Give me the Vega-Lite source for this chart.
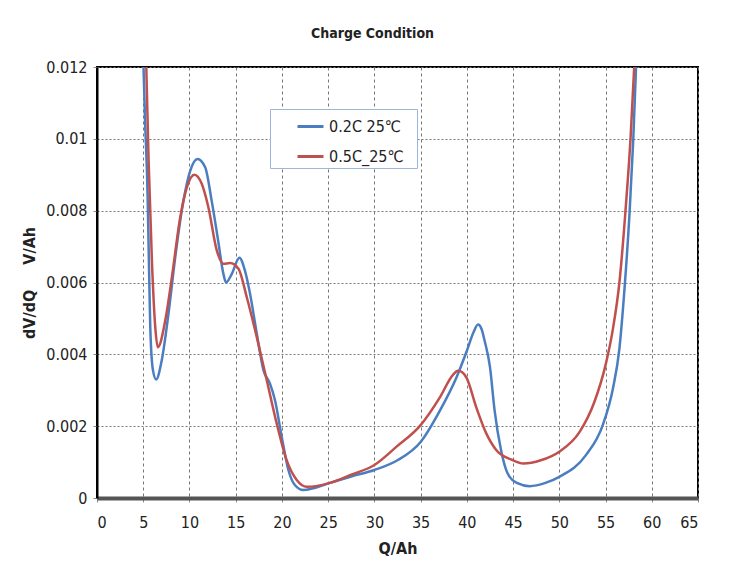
{
  "$schema": "https://vega.github.io/schema/vega-lite/v6.json",
  "width": 601,
  "height": 431,
  "autosize": {"type": "none"},
  "padding": {"left": 97, "top": 67, "right": 32, "bottom": 87},
  "background": "white",
  "title": {
    "text": "Charge Condition",
    "font": "Liberation Sans Narrow, DejaVu Sans Condensed, DejaVu Sans",
    "fontSize": 14,
    "fontWeight": "bold",
    "color": "#222222",
    "anchor": "middle",
    "frame": "group",
    "dx": -25,
    "baseline": "bottom",
    "offset": 4
  },
  "config": {
    "view": {"stroke": "#000000", "strokeWidth": 2},
    "font": "Liberation Sans Narrow, DejaVu Sans Condensed, DejaVu Sans",
    "axis": {
      "labelFont": "Liberation Sans Narrow, DejaVu Sans Condensed, DejaVu Sans",
      "labelFontSize": 16,
      "labelColor": "#222222",
      "titleFont": "Liberation Sans Narrow, DejaVu Sans Condensed, DejaVu Sans",
      "titleFontSize": 16,
      "titleFontWeight": "bold",
      "titleColor": "#222222",
      "tickColor": "#888888",
      "tickSize": 4,
      "gridColor": "#777777",
      "gridWidth": 1
    }
  },
  "data": {
    "values": [
      {"series": "0.2C 25℃", "q": 5.03, "dvdq": 0.012},
      {"series": "0.2C 25℃", "q": 5.2, "dvdq": 0.0105},
      {"series": "0.2C 25℃", "q": 5.47, "dvdq": 0.00846},
      {"series": "0.2C 25℃", "q": 5.62, "dvdq": 0.0065},
      {"series": "0.2C 25℃", "q": 5.76, "dvdq": 0.00476},
      {"series": "0.2C 25℃", "q": 6.05, "dvdq": 0.00356},
      {"series": "0.2C 25℃", "q": 6.4, "dvdq": 0.0033},
      {"series": "0.2C 25℃", "q": 7.0, "dvdq": 0.00383},
      {"series": "0.2C 25℃", "q": 7.73, "dvdq": 0.00513},
      {"series": "0.2C 25℃", "q": 8.46, "dvdq": 0.0067},
      {"series": "0.2C 25℃", "q": 9.35, "dvdq": 0.00828},
      {"series": "0.2C 25℃", "q": 10.08, "dvdq": 0.00911},
      {"series": "0.2C 25℃", "q": 10.87, "dvdq": 0.00944},
      {"series": "0.2C 25℃", "q": 11.7, "dvdq": 0.00921},
      {"series": "0.2C 25℃", "q": 12.4, "dvdq": 0.00828},
      {"series": "0.2C 25℃", "q": 13.1, "dvdq": 0.00717},
      {"series": "0.2C 25℃", "q": 13.67, "dvdq": 0.00624},
      {"series": "0.2C 25℃", "q": 13.96, "dvdq": 0.006},
      {"series": "0.2C 25℃", "q": 14.58, "dvdq": 0.00624},
      {"series": "0.2C 25℃", "q": 15.4, "dvdq": 0.00669},
      {"series": "0.2C 25℃", "q": 16.0, "dvdq": 0.00633},
      {"series": "0.2C 25℃", "q": 16.55, "dvdq": 0.00569},
      {"series": "0.2C 25℃", "q": 17.28, "dvdq": 0.00458},
      {"series": "0.2C 25℃", "q": 18.0, "dvdq": 0.00356},
      {"series": "0.2C 25℃", "q": 18.7, "dvdq": 0.00319},
      {"series": "0.2C 25℃", "q": 19.25, "dvdq": 0.00272},
      {"series": "0.2C 25℃", "q": 19.98, "dvdq": 0.0017},
      {"series": "0.2C 25℃", "q": 20.7, "dvdq": 0.00078},
      {"series": "0.2C 25℃", "q": 21.4, "dvdq": 0.00036},
      {"series": "0.2C 25℃", "q": 22.3, "dvdq": 0.00022},
      {"series": "0.2C 25℃", "q": 23.5, "dvdq": 0.00028},
      {"series": "0.2C 25℃", "q": 25.2, "dvdq": 0.00042},
      {"series": "0.2C 25℃", "q": 27.5, "dvdq": 0.0006},
      {"series": "0.2C 25℃", "q": 30, "dvdq": 0.00078},
      {"series": "0.2C 25℃", "q": 32.5, "dvdq": 0.00105},
      {"series": "0.2C 25℃", "q": 35, "dvdq": 0.00156},
      {"series": "0.2C 25℃", "q": 37.1, "dvdq": 0.00244},
      {"series": "0.2C 25℃", "q": 38.9, "dvdq": 0.00337},
      {"series": "0.2C 25℃", "q": 40, "dvdq": 0.0041},
      {"series": "0.2C 25℃", "q": 40.7, "dvdq": 0.0046},
      {"series": "0.2C 25℃", "q": 41.2, "dvdq": 0.00483},
      {"series": "0.2C 25℃", "q": 41.6, "dvdq": 0.0047},
      {"series": "0.2C 25℃", "q": 41.9, "dvdq": 0.0044},
      {"series": "0.2C 25℃", "q": 42.5, "dvdq": 0.00365},
      {"series": "0.2C 25℃", "q": 43.0, "dvdq": 0.00244},
      {"series": "0.2C 25℃", "q": 43.7, "dvdq": 0.00133},
      {"series": "0.2C 25℃", "q": 44.4, "dvdq": 0.00069},
      {"series": "0.2C 25℃", "q": 45.4, "dvdq": 0.00042},
      {"series": "0.2C 25℃", "q": 46.8, "dvdq": 0.00033},
      {"series": "0.2C 25℃", "q": 48.5, "dvdq": 0.00042},
      {"series": "0.2C 25℃", "q": 50, "dvdq": 0.00059},
      {"series": "0.2C 25℃", "q": 52.9, "dvdq": 0.0012},
      {"series": "0.2C 25℃", "q": 54.7, "dvdq": 0.00203},
      {"series": "0.2C 25℃", "q": 55.8, "dvdq": 0.00305},
      {"series": "0.2C 25℃", "q": 56.5, "dvdq": 0.00416},
      {"series": "0.2C 25℃", "q": 57.05, "dvdq": 0.00582},
      {"series": "0.2C 25℃", "q": 57.6, "dvdq": 0.00795},
      {"series": "0.2C 25℃", "q": 58.0, "dvdq": 0.00999},
      {"series": "0.2C 25℃", "q": 58.3, "dvdq": 0.012},
      {"series": "0.5C_25℃", "q": 5.33, "dvdq": 0.012},
      {"series": "0.5C_25℃", "q": 5.58, "dvdq": 0.0094},
      {"series": "0.5C_25℃", "q": 5.94, "dvdq": 0.0066},
      {"series": "0.5C_25℃", "q": 6.3, "dvdq": 0.00476},
      {"series": "0.5C_25℃", "q": 6.58, "dvdq": 0.0042},
      {"series": "0.5C_25℃", "q": 7.38, "dvdq": 0.00494},
      {"series": "0.5C_25℃", "q": 8.1, "dvdq": 0.00615},
      {"series": "0.5C_25℃", "q": 9.0, "dvdq": 0.00781},
      {"series": "0.5C_25℃", "q": 9.72, "dvdq": 0.00865},
      {"series": "0.5C_25℃", "q": 10.54, "dvdq": 0.009},
      {"series": "0.5C_25℃", "q": 11.34, "dvdq": 0.00874},
      {"series": "0.5C_25℃", "q": 12.05, "dvdq": 0.00809},
      {"series": "0.5C_25℃", "q": 12.96, "dvdq": 0.00689},
      {"series": "0.5C_25℃", "q": 13.67, "dvdq": 0.00652},
      {"series": "0.5C_25℃", "q": 14.4, "dvdq": 0.00654},
      {"series": "0.5C_25℃", "q": 15.3, "dvdq": 0.00638},
      {"series": "0.5C_25℃", "q": 16.2, "dvdq": 0.00559},
      {"series": "0.5C_25℃", "q": 17.28, "dvdq": 0.00448},
      {"series": "0.5C_25℃", "q": 18.36, "dvdq": 0.00328},
      {"series": "0.5C_25℃", "q": 19.44, "dvdq": 0.00207},
      {"series": "0.5C_25℃", "q": 20.5, "dvdq": 0.00106},
      {"series": "0.5C_25℃", "q": 21.6, "dvdq": 0.0005},
      {"series": "0.5C_25℃", "q": 22.7, "dvdq": 0.00031},
      {"series": "0.5C_25℃", "q": 25.2, "dvdq": 0.00042},
      {"series": "0.5C_25℃", "q": 27.5, "dvdq": 0.00065},
      {"series": "0.5C_25℃", "q": 30, "dvdq": 0.00092},
      {"series": "0.5C_25℃", "q": 32.4, "dvdq": 0.00143},
      {"series": "0.5C_25℃", "q": 35, "dvdq": 0.00203},
      {"series": "0.5C_25℃", "q": 37.1, "dvdq": 0.00281},
      {"series": "0.5C_25℃", "q": 38.5, "dvdq": 0.00343},
      {"series": "0.5C_25℃", "q": 39.05, "dvdq": 0.00354},
      {"series": "0.5C_25℃", "q": 39.5, "dvdq": 0.0035},
      {"series": "0.5C_25℃", "q": 40, "dvdq": 0.00333},
      {"series": "0.5C_25℃", "q": 41, "dvdq": 0.00254},
      {"series": "0.5C_25℃", "q": 42.1, "dvdq": 0.0018},
      {"series": "0.5C_25℃", "q": 43.2, "dvdq": 0.00133},
      {"series": "0.5C_25℃", "q": 44.9, "dvdq": 0.00106},
      {"series": "0.5C_25℃", "q": 46.1, "dvdq": 0.00096},
      {"series": "0.5C_25℃", "q": 48, "dvdq": 0.00105},
      {"series": "0.5C_25℃", "q": 50, "dvdq": 0.00129},
      {"series": "0.5C_25℃", "q": 52.2, "dvdq": 0.00184},
      {"series": "0.5C_25℃", "q": 53.8, "dvdq": 0.00268},
      {"series": "0.5C_25℃", "q": 55, "dvdq": 0.0037},
      {"series": "0.5C_25℃", "q": 55.8, "dvdq": 0.00471},
      {"series": "0.5C_25℃", "q": 56.5, "dvdq": 0.006},
      {"series": "0.5C_25℃", "q": 57.2, "dvdq": 0.00814},
      {"series": "0.5C_25℃", "q": 57.7, "dvdq": 0.00999},
      {"series": "0.5C_25℃", "q": 58.1, "dvdq": 0.012}
    ]
  },
  "mark": {"type": "line", "interpolate": "monotone", "strokeWidth": 2.5, "clip": true},
  "encoding": {
    "x": {
      "field": "q",
      "type": "quantitative",
      "scale": {"domain": [0, 65], "nice": false, "zero": false},
      "axis": {
        "title": "Q/Ah",
        "values": [0, 5, 10, 15, 20, 25, 30, 35, 40, 45, 50, 55, 60, 65],
        "format": "d",
        "labelPadding": 12,
        "titlePadding": 10,
        "domainColor": "#555555",
        "domainWidth": 4,
        "gridDash": [3, 3]
      }
    },
    "y": {
      "field": "dvdq",
      "type": "quantitative",
      "scale": {"domain": [0, 0.012], "nice": false},
      "axis": {
        "title": "dV/dQ\u00a0\u00a0\u00a0\u00a0\u00a0V/Ah",
        "values": [0, 0.002, 0.004, 0.006, 0.008, 0.01, 0.012],
        "format": "~g",
        "labelPadding": 6,
        "titlePadding": 8,
        "domainColor": "#000000",
        "domainWidth": 2,
        "gridDash": [2, 2]
      }
    },
    "color": {
      "field": "series",
      "type": "nominal",
      "scale": {"domain": ["0.2C 25℃", "0.5C_25℃"], "range": ["#4A7EC1", "#C0504D"]},
      "legend": {
        "title": "\u00a0",
        "titleOrient": "right",
        "titlePadding": 10,
        "titleFontSize": 8,
        "orient": "none",
        "legendX": 173,
        "legendY": 42,
        "direction": "vertical",
        "symbolType": "stroke",
        "symbolSize": 676,
        "symbolStrokeWidth": 3,
        "symbolOffset": 23,
        "labelFont": "Liberation Sans Narrow, DejaVu Sans Condensed, DejaVu Sans",
        "labelFontSize": 16,
        "labelColor": "#222222",
        "labelOffset": 4,
        "rowPadding": 7,
        "padding": 3,
        "strokeColor": "#9BB7DC",
        "fillColor": "#FFFFFF"
      }
    }
  }
}
